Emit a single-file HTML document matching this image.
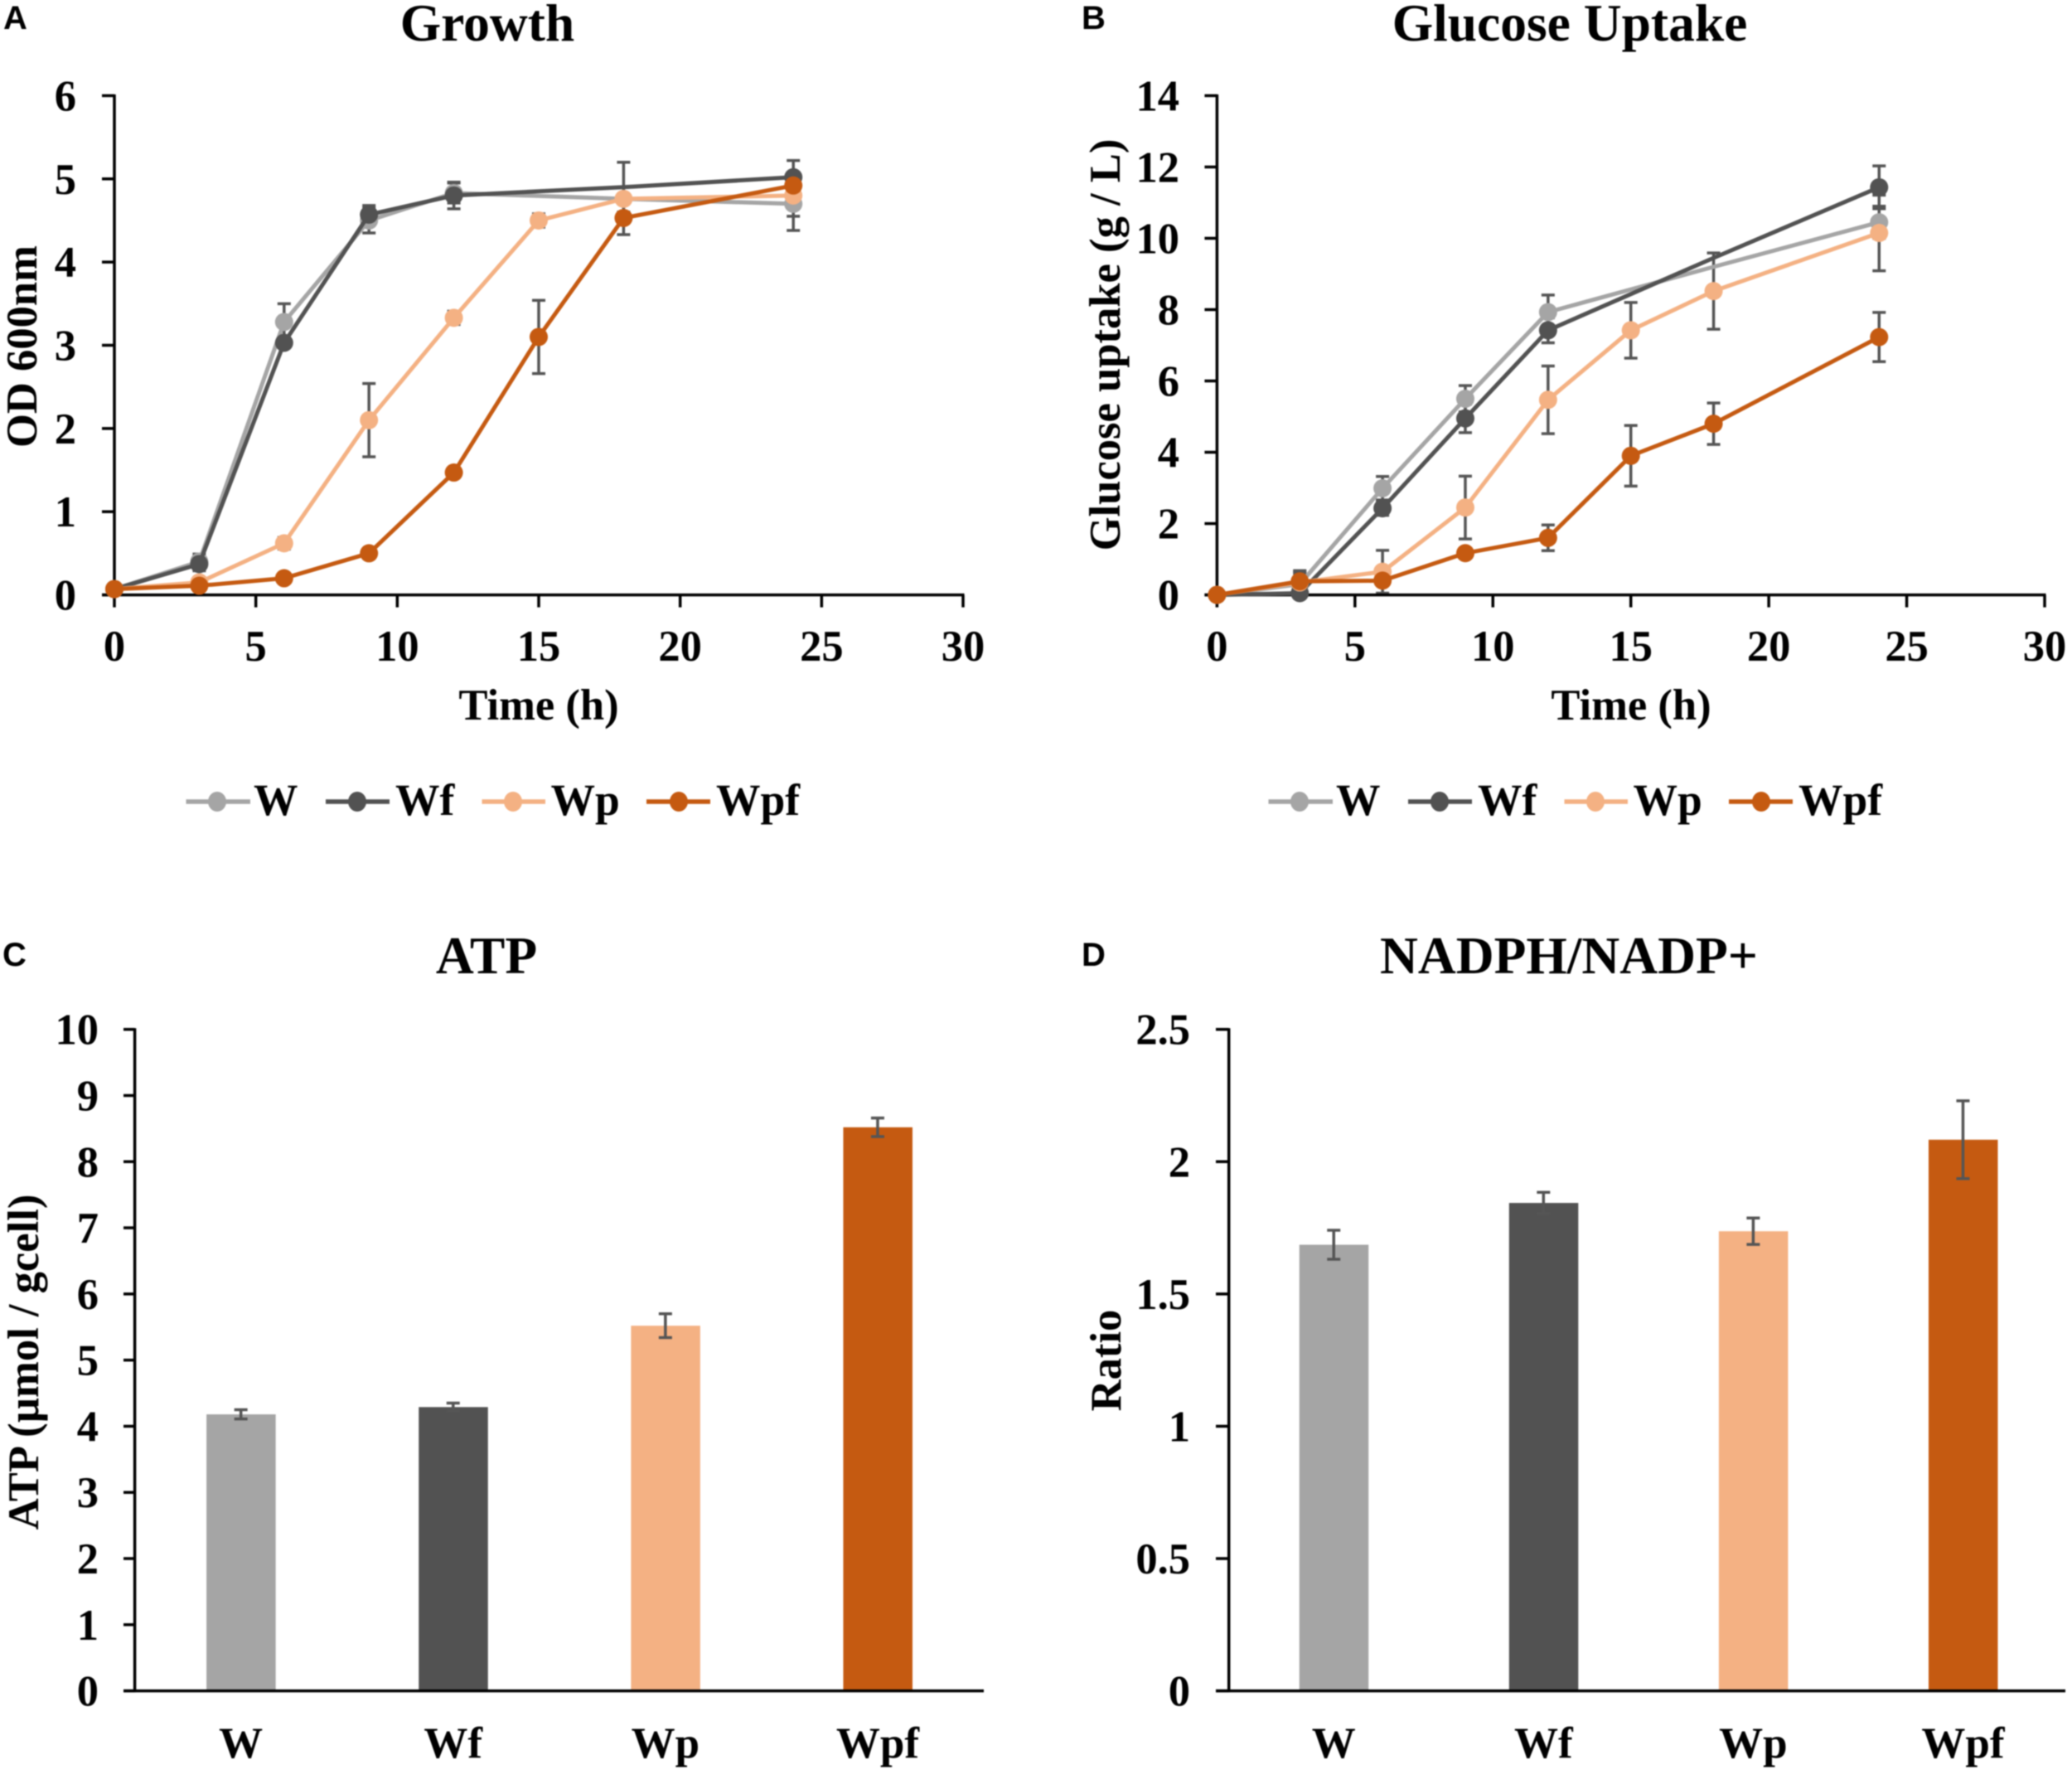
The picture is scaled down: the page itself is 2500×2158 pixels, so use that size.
<!DOCTYPE html>
<html lang="en">
<head>
<meta charset="utf-8">
<title>Growth, glucose uptake, ATP and NADPH/NADP+ charts</title>
<style>
  html, body { margin: 0; padding: 0; background: #fff; }
  svg { display: block; width: 2500px; height: 2158px; filter: blur(0.7px); }
  text { font-family: "Liberation Serif", serif; font-weight: 700; fill: #000; }
  .panel { font-family: "Liberation Sans", sans-serif; font-size: 40px; }
  .title { font-size: 63.5px; text-anchor: middle; }
  .axis-title { font-size: 52.6px; text-anchor: middle; }
  .leg { font-size: 53.5px; }
  .tick { font-size: 52.5px; }
  .cat { font-size: 53px; text-anchor: middle; }
</style>
</head>
<body>
<svg id="figure" xmlns="http://www.w3.org/2000/svg" width="2500" height="2158" viewBox="0 0 2500 2158">
  <rect x="0" y="0" width="2500" height="2158" fill="#ffffff"/>

  <text class="panel" x="4" y="35">A</text>
  <text class="panel" x="1305" y="35">B</text>
  <text class="panel" x="3" y="1165">C</text>
  <text class="panel" x="1305" y="1165">D</text>

  <text class="title" x="588" y="49">Growth</text>
  <text class="title" x="1894" y="49">Glucose Uptake</text>
  <text class="title" x="587" y="1174">ATP</text>
  <text class="title" x="1893" y="1174">NADPH/NADP+</text>

  <text class="axis-title" transform="translate(44,418) rotate(-90)">OD 600nm</text>
  <text class="axis-title" transform="translate(1351,416) rotate(-90)">Glucose uptake (g / L)</text>
  <text class="axis-title" transform="translate(46,1643) rotate(-90)">ATP (µmol / gcell)</text>
  <text class="axis-title" transform="translate(1352,1641) rotate(-90)">Ratio</text>
  <text class="axis-title" x="650" y="868">Time (h)</text>
  <text class="axis-title" x="1968" y="868">Time (h)</text>

  <g>
    <g>
      <line x1="224.5" x2="302" y1="967" y2="967" stroke="#a5a5a5" stroke-width="5.5"/><ellipse cx="262" cy="967" rx="11" ry="12" fill="#a5a5a5"/>
      <text class="leg" x="306" y="983">W</text>
    </g>
    <g>
      <line x1="393" x2="470" y1="967" y2="967" stroke="#525252" stroke-width="5.5"/><ellipse cx="431" cy="967" rx="11" ry="12" fill="#525252"/>
      <text class="leg" x="477" y="983">Wf</text>
    </g>
    <g>
      <line x1="581.5" x2="658" y1="967" y2="967" stroke="#f4b183" stroke-width="5.5"/><ellipse cx="619" cy="967" rx="11" ry="12" fill="#f4b183"/>
      <text class="leg" x="664.5" y="983">Wp</text>
    </g>
    <g>
      <line x1="780" x2="857" y1="967" y2="967" stroke="#c55a11" stroke-width="5.5"/><ellipse cx="819" cy="967" rx="11" ry="12" fill="#c55a11"/>
      <text class="leg" x="864" y="983">Wpf</text>
    </g>
  </g>
  <g transform="translate(1306,0)">
    <g>
      <line x1="224.5" x2="302" y1="967" y2="967" stroke="#a5a5a5" stroke-width="5.5"/><ellipse cx="262" cy="967" rx="11" ry="12" fill="#a5a5a5"/>
      <text class="leg" x="306" y="983">W</text>
    </g>
    <g>
      <line x1="393" x2="470" y1="967" y2="967" stroke="#525252" stroke-width="5.5"/><ellipse cx="431" cy="967" rx="11" ry="12" fill="#525252"/>
      <text class="leg" x="477" y="983">Wf</text>
    </g>
    <g>
      <line x1="581.5" x2="658" y1="967" y2="967" stroke="#f4b183" stroke-width="5.5"/><ellipse cx="619" cy="967" rx="11" ry="12" fill="#f4b183"/>
      <text class="leg" x="664.5" y="983">Wp</text>
    </g>
    <g>
      <line x1="780" x2="857" y1="967" y2="967" stroke="#c55a11" stroke-width="5.5"/><ellipse cx="819" cy="967" rx="11" ry="12" fill="#c55a11"/>
      <text class="leg" x="864" y="983">Wpf</text>
    </g>
  </g>

  <g id="growth-chart"></g>
  <g id="glucose-chart"></g>
  <g id="atp-chart"></g>
  <g id="ratio-chart"></g>
</svg>

<script>
// ---- shared categories and tick labels ----
const seriesNames = ['W', 'Wf', 'Wp', 'Wpf'];
const seriesColors = ['#a5a5a5', '#525252', '#f4b183', '#c55a11'];
const timeTicks = [0, 5, 10, 15, 20, 25, 30];
const growthTicks = [0, 1, 2, 3, 4, 5, 6];
const glucoseTicks = [0, 2, 4, 6, 8, 10, 12, 14];
const atpTicks = [0, 1, 2, 3, 4, 5, 6, 7, 8, 9, 10];
const ratioTicks = [0, 0.5, 1, 1.5, 2, 2.5];

// ---- sampling times: W and Wf were not sampled at 15 h ----
const timesShort = [0, 3, 6, 9, 12, 18, 24];
const timesFull = [0, 3, 6, 9, 12, 15, 18, 24];
// Times on the W and Wf lines that carry no visible marker
const unmarkedTimes = [18];

// ---- panel A: OD 600nm ----
const growthW = [0.07, 0.40, 3.28, 4.50, 4.83, 4.76, 4.70];
const growthWErr = [0, 0.09, 0.22, 0.15, 0.12, 0, 0.32];
const growthWf = [0.07, 0.37, 3.03, 4.57, 4.80, 4.90, 5.02];
const growthWfErr = [0, 0.08, 0.05, 0.11, 0.16, 0.30, 0.20];
const growthWp = [0.07, 0.15, 0.62, 2.10, 3.33, 4.50, 4.76, 4.80];
const growthWpErr = [0, 0.03, 0.07, 0.44, 0.08, 0.08, 0.05, 0.25];
const growthWpf = [0.07, 0.11, 0.20, 0.50, 1.47, 3.10, 4.53, 4.92];
const growthWpfErr = [0, 0.02, 0.03, 0.04, 0.05, 0.44, 0.20, 0.05];

// ---- panel B: glucose uptake ----
const glucoseW = [0, 0.30, 2.99, 5.50, 7.93, 9.20, 10.45];
const glucoseWErr = [0, 0.30, 0.33, 0.37, 0.48, 0, 0.45];
const glucoseWf = [0, 0.05, 2.43, 4.95, 7.42, 9.45, 11.43];
const glucoseWfErr = [0, 0.05, 0.20, 0.40, 0.35, 0, 0.60];
const glucoseWp = [0, 0.35, 0.65, 2.45, 5.47, 7.42, 8.52, 10.15];
const glucoseWpErr = [0, 0.30, 0.60, 0.88, 0.95, 0.78, 1.07, 1.06];
const glucoseWpf = [0, 0.38, 0.40, 1.17, 1.60, 3.90, 4.80, 7.23];
const glucoseWpfErr = [0, 0.30, 0.10, 0.10, 0.36, 0.85, 0.58, 0.69];

// ---- panel C: ATP ----
const atpValues = [4.18, 4.29, 5.52, 8.52];
const atpErr = [0.07, 0.06, 0.18, 0.14];

// ---- panel D: NADPH/NADP+ ----
const ratioValues = [1.686, 1.844, 1.737, 2.083];
const ratioErr = [0.055, 0.04, 0.05, 0.147];

const SVG_NS = 'http://www.w3.org/2000/svg';
const ERR_COLOR = '#555555';

function el(parent, tag, attrs) {
  const node = document.createElementNS(SVG_NS, tag);
  for (const key in attrs) node.setAttribute(key, attrs[key]);
  parent.appendChild(node);
  return node;
}

function linearScale(d0, d1, r0, r1) {
  return function (v) { return r0 + (v - d0) * (r1 - r0) / (d1 - d0); };
}

function drawErrorBar(parent, cx, yHigh, yLow, capHalf) {
  const group = el(parent, 'g', { stroke: ERR_COLOR, 'stroke-width': 3.5, fill: 'none' });
  
  
  el(group, 'line', { x1: cx, x2: cx, y1: yHigh, y2: yLow });
  el(group, 'line', { x1: cx - capHalf, x2: cx + capHalf, y1: yHigh, y2: yHigh });
  el(group, 'line', { x1: cx - capHalf, x2: cx + capHalf, y1: yLow, y2: yLow });
}

function drawYAxis(parent, cfg, y, ticks) {
  const axis = el(parent, 'g', {});
  
  
  const spine = el(axis, 'line', { x1: cfg.axisX, x2: cfg.axisX, y1: y(ticks[ticks.length - 1]) - 1.5, y2: y(ticks[0]) + 1.5, stroke: '#000', 'stroke-width': 3.5 });
  
  
  ticks.forEach(function (t) {
    const mark = el(axis, 'line', { x1: cfg.tickX, x2: cfg.axisX, y1: y(t), y2: y(t), stroke: '#000', 'stroke-width': 3.5 });
    
    
    const label = el(axis, 'text', { class: 'tick', x: cfg.labelX, y: y(t) + 18, 'text-anchor': 'end' });
    
    
    label.textContent = String(t);
  });
}

function drawLineChart(rootId, cfg, series, yTicks) {
  const root = document.getElementById(rootId);
  const x = linearScale(0, 30, cfg.x0, cfg.x1);
  const y = linearScale(yTicks[0], yTicks[yTicks.length - 1], cfg.y0, cfg.y1);

  series.forEach(function (s) {
    s.values.forEach(function (v, i) {
      if (s.errs[i] > 0) drawErrorBar(root, x(s.times[i]), y(v + s.errs[i]), y(v - s.errs[i]), 8);
    });
  });

  drawYAxis(root, { axisX: cfg.x0, tickX: cfg.x0 - 15, labelX: cfg.labelX }, y, yTicks);

  const xAxis = el(root, 'g', {});
  
  
  const baseline = el(xAxis, 'line', { x1: cfg.x0 - 15, x2: cfg.x1 + 1.5, y1: cfg.y0, y2: cfg.y0, stroke: '#000', 'stroke-width': 3.5 });
  
  
  timeTicks.forEach(function (t) {
    const mark = el(xAxis, 'line', { x1: x(t), x2: x(t), y1: cfg.y0, y2: cfg.y0 + 15, stroke: '#000', 'stroke-width': 3.5 });
    
    
    const label = el(xAxis, 'text', { class: 'tick', x: x(t), y: 797, 'text-anchor': 'middle' });
    
    
    label.textContent = String(t);
  });

  series.forEach(function (s) {
    const group = el(root, 'g', {});
    
    
    const points = s.values.map(function (v, i) { return x(s.times[i]) + ',' + y(v); }).join(' ');
    const line = el(group, 'polyline', { points: points, fill: 'none', stroke: s.color, 'stroke-width': 5, 'stroke-linejoin': 'round' });
    
    
    s.values.forEach(function (v, i) {
      if (s.skipMarkers && s.skipMarkers.indexOf(s.times[i]) !== -1) return;
      const dot = el(group, 'circle', { cx: x(s.times[i]), cy: y(v), r: 11, fill: s.color });
      
      
    });
  });
}

function drawBarChart(rootId, cfg, values, errs, yTicks) {
  const root = document.getElementById(rootId);
  const y = linearScale(yTicks[0], yTicks[yTicks.length - 1], cfg.y0, cfg.y1);
  const band = (cfg.bandEnd - cfg.axisX) / seriesNames.length;

  values.forEach(function (v, i) {
    const cx = cfg.axisX + band * (i + 0.5);
    const bar = el(root, 'rect', { x: cx - 41.5, y: y(v), width: 83.5, height: cfg.y0 - y(v), fill: seriesColors[i] });
    
    
    drawErrorBar(root, cx, y(v + errs[i]), y(v - errs[i]), 8);
    const label = el(root, 'text', { class: 'cat', x: cx, y: 2120 });
    
    
    label.textContent = seriesNames[i];
  });

  drawYAxis(root, { axisX: cfg.axisX, tickX: cfg.tickX, labelX: cfg.labelX }, y, yTicks);
  const baseline = el(root, 'line', { x1: cfg.tickX, x2: cfg.axisEnd, y1: cfg.y0, y2: cfg.y0, stroke: '#000', 'stroke-width': 3.5 });
  
  
}

function buildSeries(values, errs, idx) {
  return { name: seriesNames[idx], color: seriesColors[idx], values: values, errs: errs };
}

const growthSeries = [
  Object.assign(buildSeries(growthW, growthWErr, 0), { times: timesShort, skipMarkers: unmarkedTimes }),
  Object.assign(buildSeries(growthWf, growthWfErr, 1), { times: timesShort, skipMarkers: unmarkedTimes }),
  Object.assign(buildSeries(growthWp, growthWpErr, 2), { times: timesFull }),
  Object.assign(buildSeries(growthWpf, growthWpfErr, 3), { times: timesFull })
];
const glucoseSeries = [
  Object.assign(buildSeries(glucoseW, glucoseWErr, 0), { times: timesShort, skipMarkers: unmarkedTimes }),
  Object.assign(buildSeries(glucoseWf, glucoseWfErr, 1), { times: timesShort, skipMarkers: unmarkedTimes }),
  Object.assign(buildSeries(glucoseWp, glucoseWpErr, 2), { times: timesFull }),
  Object.assign(buildSeries(glucoseWpf, glucoseWpfErr, 3), { times: timesFull })
];

drawLineChart('growth-chart', { x0: 138, x1: 1162, y0: 717.6, y1: 115.4, labelX: 92 }, growthSeries, growthTicks);
drawLineChart('glucose-chart', { x0: 1468.4, x1: 2467, y0: 717.6, y1: 115.4, labelX: 1423 }, glucoseSeries, glucoseTicks);
drawBarChart('atp-chart', { axisX: 162.6, tickX: 149, labelX: 119, axisEnd: 1187, bandEnd: 1187, y0: 2039.6, y1: 1241.7 }, atpValues, atpErr, atpTicks);
drawBarChart('ratio-chart', { axisX: 1482.7, tickX: 1467, labelX: 1436, axisEnd: 2492, bandEnd: 2495, y0: 2039.6, y1: 1241.7 }, ratioValues, ratioErr, ratioTicks);
</script>
</body>
</html>
